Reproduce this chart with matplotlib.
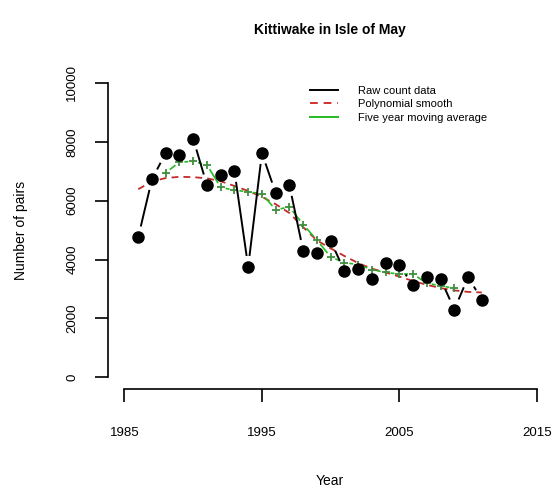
import matplotlib
matplotlib.use('Agg')
import matplotlib.pyplot as plt
import numpy as np
from matplotlib.collections import LineCollection
from matplotlib.lines import Line2D

# ---- data ----
years = list(range(1986, 2012))
raw_pairs = [4760, 6730, 7620, 7560, 8100, 6530, 6870, 7010, 3750, 7620,
             6260, 6530, 4300, 4220, 4640, 3610, 3670, 3340, 3870, 3800,
             3120, 3400, 3340, 2300, 3400, 2640]
poly_pairs = [6390, 6650, 6770, 6810, 6800, 6760, 6660, 6500, 6330, 6130,
              5880, 5580, 5100, 4650, 4380, 4120, 3880, 3690, 3560, 3420,
              3270, 3140, 3030, 2950, 2900, 2880]
ma_years = list(range(1988, 2010))
ma_pairs = [6954, 7308, 7336, 7214, 6452, 6356, 6302, 6234, 5692, 5786,
            5190, 4660, 4088, 3896, 3826, 3658, 3560, 3506, 3506, 3192,
            3112, 3016]
x_ticks = [1985, 1995, 2005, 2015]
y_ticks = [0, 2000, 4000, 6000, 8000, 10000]
title = "Kittiwake in Isle of May"
legend_labels = ["Raw count data", "Polynomial smooth", "Five year moving average"]

plt.rcParams['font.family'] = ['Liberation Sans', 'DejaVu Sans']

W, H = 553, 491
fig = plt.figure(figsize=(W / 100, H / 100), dpi=100)
ax = fig.add_axes([108 / W, 1 - 389 / H, (553.3 - 108) / W, (389 - 71.2) / H])
ax.set_xlim(1983.8, 2016.2)
ax.set_ylim(-400, 10400)
ax.patch.set_alpha(0)

for s in ['top', 'right']:
    ax.spines[s].set_visible(False)
ax.spines['left'].set_bounds(0, 10000)
ax.spines['bottom'].set_bounds(1985, 2015)
for s in ['left', 'bottom']:
    ax.spines[s].set_linewidth(1.2)

ax.set_xticks(x_ticks)
ax.set_xticklabels([str(v) for v in x_ticks])
ax.set_yticks(y_ticks)
ax.set_yticklabels([str(v) for v in y_ticks], rotation=90, va='center')
ax.tick_params(axis='both', length=9.4, width=1.2, labelsize=9.5)
ax.tick_params(axis='y', pad=12)
ax.tick_params(axis='x', pad=18)


def gapped(xs, ys, gap_px, **kw):
    """Draw a polyline with gaps around each vertex (R type='b')."""
    fig.canvas.draw()
    pts = ax.transData.transform(np.column_stack([xs, ys]))
    segs = []
    for p, q in zip(pts[:-1], pts[1:]):
        d = q - p
        L = np.hypot(*d)
        if L <= 2 * gap_px:
            continue
        u = d / L
        a = p + u * gap_px
        b = q - u * gap_px
        segs.append(ax.transData.inverted().transform(np.array([a, b])))
    ax.add_collection(LineCollection(segs, **kw))


# polynomial smooth
ax.plot(years, poly_pairs, color='#c42a2a', lw=1.3, ls=(0, (3.8, 2.8)), zorder=2)

# moving average
gapped(ma_years, ma_pairs, 5, colors='#22bb22', linewidths=1.2, zorder=3)
ax.plot(ma_years, ma_pairs, ls='none', marker='+', ms=6, mew=1.3,
        color='#3f8f3f', zorder=4)

# raw counts
gapped(years, raw_pairs, 11, colors='black', linewidths=1.4, zorder=5)
ax.plot(years, raw_pairs, ls='none', marker='o', ms=8, color='black', zorder=6)

handles = [Line2D([], [], color='black', lw=1.4),
           Line2D([], [], color='#d23030', lw=1.4, ls=(0, (4, 3))),
           Line2D([], [], color='#22bb22', lw=1.4)]
ax.legend(handles, legend_labels, loc='upper left',
          bbox_to_anchor=(310 / W, 1 - 86 / H), bbox_transform=fig.transFigure,
          frameon=False, fontsize=8, handlelength=2.5, handletextpad=1.8,
          labelspacing=0.3, borderpad=0, borderaxespad=0)

fig.text(330 / W, 1 - 30 / H, title, ha='center', va='center',
         fontsize=10, fontweight='bold')
fig.text(21 / W, 1 - 230 / H, "Number of pairs", rotation=90,
         ha='center', va='center', fontsize=10)
fig.text(330 / W, 1 - 481 / H, "Year", ha='center', va='center', fontsize=10)

fig.savefig('out.png', dpi=100)
